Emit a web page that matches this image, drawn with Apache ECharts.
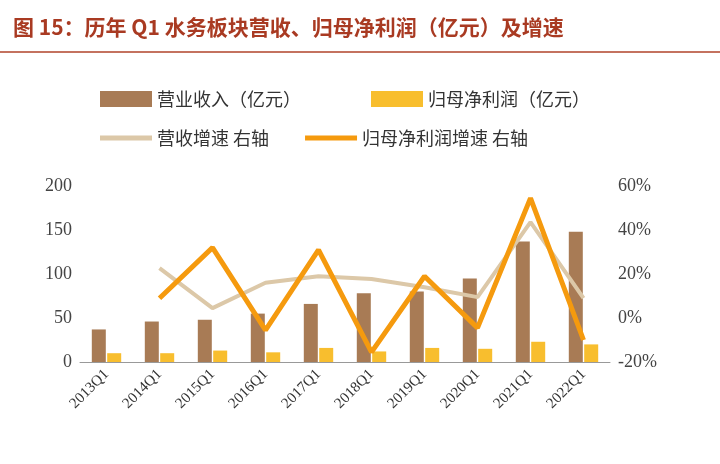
<!DOCTYPE html>
<html><head><meta charset="utf-8">
<script src="https://cdn.jsdelivr.net/npm/echarts@6/dist/echarts.min.js"></script>
<style>body{margin:0;background:#fff}#c{width:720px;height:464px}</style>
</head><body><div id="c"></div>
<script>
// 数据
const years = ['2013Q1','2014Q1','2015Q1','2016Q1','2017Q1','2018Q1','2019Q1','2020Q1','2021Q1','2022Q1'];
const revenue = [37, 46, 48, 55, 66, 78, 80, 95, 137, 148];
const profit = [10, 10, 13, 11, 16, 12, 16, 15, 23, 20];
const revGrowth = [null, 22.7, 4.5, 16, 19, 17.7, 14, 9.5, 43.6, 9];
const profitGrowth = [null, 9, 32, -5.5, 31, -15.5, 19, -4.5, 54.5, -10];

const cjk = '"Noto Sans CJK SC"';
const serif = '"Liberation Serif"';
const legText = {fontFamily: cjk, fontSize: 18, color: '#333'};
let chart = echarts.init(document.getElementById('c'));
chart.setOption({
  animation: false,
  title: {
    text: '图 15：历年 Q1 水务板块营收、归母净利润（亿元）及增速',
    left: 8, top: 12,
    textStyle: {color: '#A93A22', fontSize: 21, fontWeight: 'bold', fontFamily: cjk}
  },
  graphic: [{type: 'line', shape: {x1: 0, y1: 52, x2: 720, y2: 52}, style: {stroke: '#B0432A', lineWidth: 1.5}}],
  legend: [
    {top: 85, left: 95, itemGap: 70, itemWidth: 52, itemHeight: 16, icon: 'rect',
     textStyle: legText, data: ['营业收入（亿元）','归母净利润（亿元）']},
    {top: 124, left: 95, itemGap: 36, itemWidth: 52, itemHeight: 5, icon: 'rect',
     textStyle: legText, data: ['营收增速 右轴','归母净利润增速 右轴']}
  ],
  grid: {left: 80, right: 110, top: 186, bottom: 102},
  xAxis: {
    type: 'category', data: years,
    axisLine: {lineStyle: {color: '#999'}}, axisTick: {show: false},
    axisLabel: {rotate: 45, fontFamily: serif, fontSize: 15, color: '#333', margin: 10}
  },
  yAxis: [
    {type: 'value', min: 0, max: 200, interval: 50, splitLine: {show: false},
     axisLabel: {fontFamily: serif, fontSize: 18, color: '#444'}},
    {type: 'value', min: -20, max: 60, interval: 20, splitLine: {show: false},
     axisLabel: {formatter: '{value}%', fontFamily: serif, fontSize: 18, color: '#444'}}
  ],
  series: [
    {name: '营业收入（亿元）', type: 'bar', data: revenue, barWidth: 14, barGap: '10%', itemStyle: {color: '#A87B55'}},
    {name: '归母净利润（亿元）', type: 'bar', data: profit, barWidth: 14, itemStyle: {color: '#F8BE2E'}},
    {name: '营收增速 右轴', type: 'line', yAxisIndex: 1, data: revGrowth, symbol: 'none',
     lineStyle: {color: '#DCC8A8', width: 4}, itemStyle: {color: '#DCC8A8'}},
    {name: '归母净利润增速 右轴', type: 'line', yAxisIndex: 1, data: profitGrowth, symbol: 'none',
     lineStyle: {color: '#F59A0E', width: 5}, itemStyle: {color: '#F59A0E'}}
  ]
});
</script></body></html>
